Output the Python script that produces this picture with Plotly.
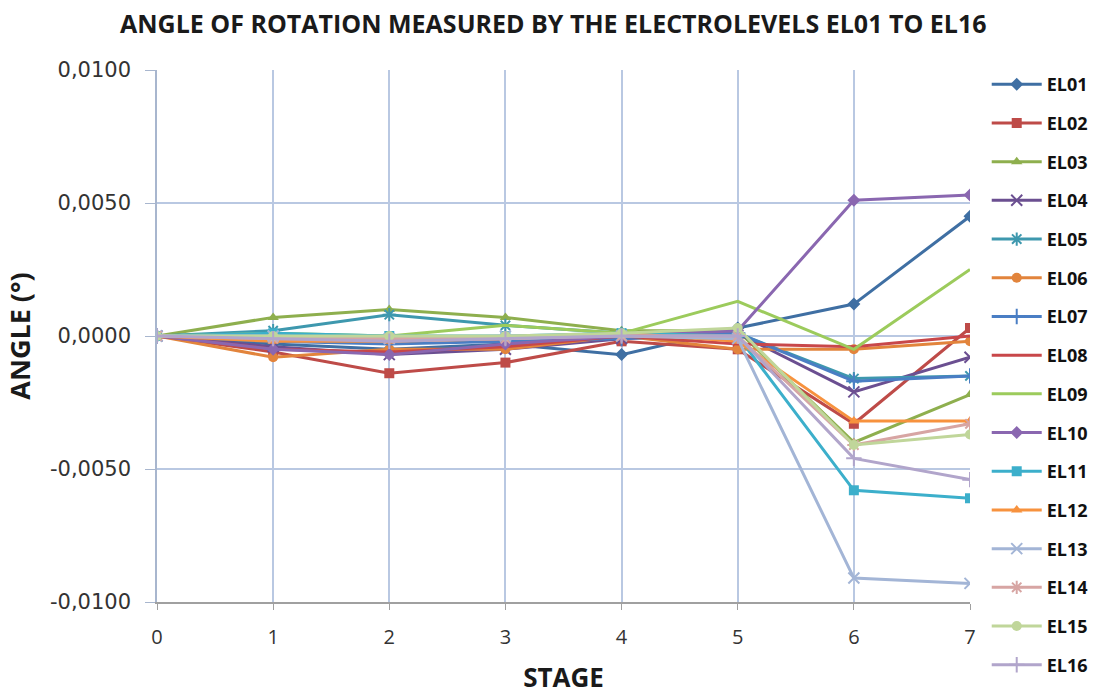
import plotly.graph_objects as go

stages = [0, 1, 2, 3, 4, 5, 6, 7]
x_tick_labels = ["0", "1", "2", "3", "4", "5", "6", "7"]
y_tick_vals = [-0.01, -0.005, 0.0, 0.005, 0.01]
y_tick_labels = ["-0,0100", "-0,0050", "0,0000", "0,0050", "0,0100"]

names = ["EL01", "EL02", "EL03", "EL04", "EL05", "EL06", "EL07", "EL08",
         "EL09", "EL10", "EL11", "EL12", "EL13", "EL14", "EL15", "EL16"]

EL01 = [0, -0.0003, -0.0005, -0.0003, -0.0007, 0.0003, 0.0012, 0.0045]
EL02 = [0, -0.0006, -0.0014, -0.0010, -0.0002, -0.0005, -0.0033, 0.0003]
EL03 = [0, 0.0007, 0.0010, 0.0007, 0.0002, 0.0002, -0.0040, -0.0022]
EL04 = [0, -0.0004, -0.0007, -0.0005, -0.0001, 0.0001, -0.0021, -0.0008]
EL05 = [0, 0.0002, 0.0008, 0.0004, 0.0001, 0.0001, -0.0016, -0.0015]
EL06 = [0, -0.0008, -0.0005, -0.0005, 0.0000, -0.0005, -0.0005, -0.0002]
EL07 = [0, -0.0002, -0.0003, -0.0002, -0.0001, 0.0001, -0.0017, -0.0015]
EL08 = [0, -0.0005, -0.0006, -0.0004, 0.0000, -0.0003, -0.0004, 0.0000]
EL09 = [0, 0.0001, 0.0000, 0.0004, 0.0001, 0.0013, -0.0005, 0.0025]
EL10 = [0, -0.0005, -0.0007, -0.0003, 0.0000, 0.0002, 0.0051, 0.0053]
EL11 = [0, 0.0001, 0.0000, 0.0000, 0.0001, 0.0000, -0.0058, -0.0061]
EL12 = [0, -0.0002, -0.0002, -0.0001, 0.0001, -0.0002, -0.0032, -0.0032]
EL13 = [0, 0.0000, -0.0001, 0.0000, 0.0000, -0.0001, -0.0091, -0.0093]
EL14 = [0, -0.0001, -0.0001, -0.0001, 0.0000, 0.0000, -0.0041, -0.0033]
EL15 = [0, 0.0000, 0.0000, 0.0000, 0.0001, 0.0003, -0.0041, -0.0037]
EL16 = [0, -0.0001, -0.0002, -0.0001, 0.0000, 0.0000, -0.0046, -0.0054]

series = [EL01, EL02, EL03, EL04, EL05, EL06, EL07, EL08,
          EL09, EL10, EL11, EL12, EL13, EL14, EL15, EL16]

colors = ["#3F6FA3", "#BE4B48", "#8EAF4E", "#6B4F91", "#3E98AE", "#E2843C",
          "#4A7EC4", "#C8474A", "#9CCB5C", "#8A67B0", "#3CAFCB", "#F7923E",
          "#A3B5D6", "#D7A5A3", "#C0D69A", "#B1A5CB"]
symbols = ["diamond", "square", "triangle-up", "x-thin-open", "asterisk-open", "circle",
           "cross-thin-open", None, None, "diamond", "square", "triangle-up",
           "x-thin-open", "asterisk-open", "circle", "cross-thin-open"]

fig = go.Figure()
for name, vals, col, sym in zip(names, series, colors, symbols):
    if sym is None:
        mode = "lines"
        marker = dict()
    else:
        mode = "lines+markers"
        open_sym = sym.endswith("open")
        marker = dict(symbol=sym, size=11 if open_sym else 10, color=col,
                      line=dict(width=2 if open_sym else 0, color=col))
    fig.add_trace(go.Scatter(x=stages, y=vals, name=name, mode=mode,
                             line=dict(color=col, width=3), marker=marker,
                             legendgroup=name))

fig.update_layout(
    width=1120, height=695,
    margin=dict(l=157, r=150, t=70, b=93, autoexpand=False),
    paper_bgcolor="white", plot_bgcolor="white",
    title=dict(text="<b>ANGLE OF ROTATION MEASURED BY THE ELECTROLEVELS EL01 TO EL16</b>",
               x=0.494, xanchor="center", y=0.965, yanchor="middle",
               font=dict(family="Open Sans", size=25, color="#1a1a1a")),
    showlegend=True,
    legend=dict(x=0.881, xanchor="left", xref="container",
                y=0.905, yanchor="top", yref="container", maxheight=1,
                itemwidth=50,
                font=dict(family="Open Sans", size=18, color="#111111", weight="bold"),
                tracegroupgap=12.3, bgcolor="rgba(0,0,0,0)"),
    xaxis=dict(range=[0, 7], tickvals=stages, ticktext=x_tick_labels,
               showgrid=True, gridcolor="#B9C8E2", gridwidth=1.5,
               showline=True, linecolor="#A0A0A0", linewidth=1.5,
               ticks="outside", ticklen=6, tickcolor="#A0A0A0",
               ticklabelstandoff=10,
               tickfont=dict(family="Open Sans", size=20, color="#333333"),
               title=dict(text="<b>STAGE</b>", standoff=22,
                          font=dict(family="Open Sans", size=26, color="#1a1a1a")),
               zeroline=False),
    yaxis=dict(range=[-0.01, 0.01], tickvals=y_tick_vals, ticktext=y_tick_labels,
               showgrid=True, gridcolor="#B9C8E2", gridwidth=1.5,
               showline=True, linecolor="#A8B6CE", linewidth=1.5,
               ticks="outside", ticklen=10, tickcolor="#A8B6CE",
               ticklabelstandoff=10,
               tickfont=dict(family="DejaVu Sans", size=21, color="#333333"),
               title=dict(text="<b>ANGLE (°)</b>", standoff=12,
                          font=dict(family="Open Sans", size=27, color="#1a1a1a")),
               zeroline=False),
)

fig.write_html("out.html")
